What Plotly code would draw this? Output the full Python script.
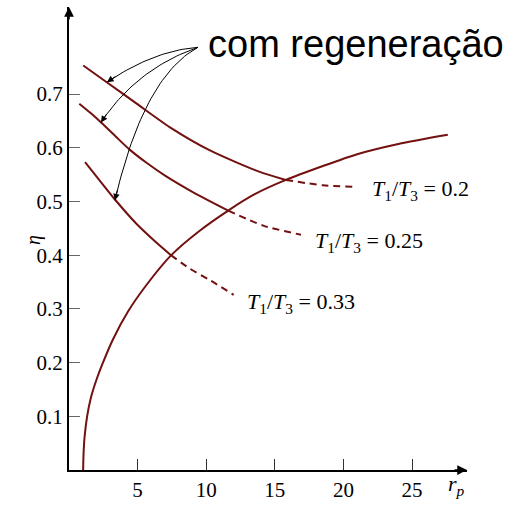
import numpy as np
import plotly.graph_objects as go

# ---- data ----
# Brayton cycle without regeneration
rp_simple = [1.03, 1.06, 1.13, 1.32, 1.6, 2.0, 2.43, 3.2, 4.3, 5.6, 7.45, 9.5, 11.6, 13.5, 15.8, 18.5, 21.0, 24.0, 27.6]
eta_simple = [0.0, 0.03, 0.06, 0.10, 0.135, 0.168, 0.197, 0.243, 0.295, 0.343, 0.40, 0.445, 0.483, 0.513, 0.540, 0.566, 0.588, 0.607, 0.624]

# with regeneration, T1/T3 = 0.2
rp_02 = [1.04, 2.75, 4.93, 7.36, 10.27, 13.9, 15.8]
eta_02 = [0.753, 0.722, 0.682, 0.638, 0.595, 0.555, 0.540]
rp_02_dash = [15.8, 18.5, 20.8]
eta_02_dash = [0.540, 0.530, 0.527]

# T1/T3 = 0.25
rp_025 = [0.75, 1.6, 2.38, 3.4, 4.44, 5.7, 7.0, 9.05, 11.6]
eta_025 = [0.682, 0.664, 0.646, 0.621, 0.596, 0.571, 0.548, 0.517, 0.483]
rp_025_dash = [11.6, 14.15, 16.9]
eta_025_dash = [0.483, 0.455, 0.438]

# T1/T3 = 0.33
rp_033 = [1.17, 2.2, 3.3, 4.93, 6.3, 7.43]
eta_033 = [0.573, 0.540, 0.505, 0.458, 0.425, 0.40]
rp_033_dash = [7.43, 8.8, 10.3, 12.0]
eta_033_dash = [0.40, 0.375, 0.353, 0.326]

labels = ["<i>T</i><sub>1</sub>/<i>T</i><sub>3</sub> = 0.2",
          "<i>T</i><sub>1</sub>/<i>T</i><sub>3</sub> = 0.25",
          "<i>T</i><sub>1</sub>/<i>T</i><sub>3</sub> = 0.33"]
label_x = [21.9, 17.8, 12.8]
label_y = [0.522, 0.425, 0.31]

x_ticks = [5, 10, 15, 20, 25]
y_ticks = [0.1, 0.2, 0.3, 0.4, 0.5, 0.6, 0.7]

# curved pointer arrows (start, control, tip) in data units
arrow_start = (9.4, 0.787)
arrow_ctrl = [(6.2, 0.781), (4.92, 0.747), (5.43, 0.732)]
arrow_tip = [(2.77, 0.722), (2.33, 0.647), (3.35, 0.502)]

RED = "#731010"
SERIF = "Liberation Serif, Times New Roman, serif"

fig = go.Figure()

def add_line(x, y, dash="solid"):
    fig.add_trace(go.Scatter(x=x, y=y, mode="lines",
                             line=dict(color=RED, width=2, dash=dash, shape="spline", smoothing=0.7),
                             hoverinfo="skip", showlegend=False))

add_line(rp_simple, eta_simple)
add_line(rp_02, eta_02)
add_line(rp_02_dash, eta_02_dash, "7px,5px")
add_line(rp_025, eta_025)
add_line(rp_025_dash, eta_025_dash, "7px,5px")
add_line(rp_033, eta_033)
add_line(rp_033_dash, eta_033_dash, "7px,5px")

# pointer arrows (quadratic Bezier curves)
t = np.linspace(0, 1, 40)
xpx, ypx = 13.72, 537.1  # px per unit
for c, tip in zip(arrow_ctrl, arrow_tip):
    bx = (1 - t) ** 2 * arrow_start[0] + 2 * (1 - t) * t * c[0] + t ** 2 * tip[0]
    by = (1 - t) ** 2 * arrow_start[1] + 2 * (1 - t) * t * c[1] + t ** 2 * tip[1]
    fig.add_trace(go.Scatter(x=bx, y=by, mode="lines", line=dict(color="black", width=1),
                             hoverinfo="skip", showlegend=False))
    dx = (tip[0] - c[0]) * xpx
    dy = -(tip[1] - c[1]) * ypx
    n = (dx ** 2 + dy ** 2) ** 0.5
    L = 12
    fig.add_annotation(x=tip[0], y=tip[1], xref="x", yref="y", text="", showarrow=True,
                       ax=-dx / n * L, ay=-dy / n * L, arrowhead=2, arrowsize=1.3,
                       arrowwidth=1, arrowcolor="black")

for txt, lx, ly in zip(labels, label_x, label_y):
    fig.add_annotation(x=lx, y=ly, xref="x", yref="y", text=txt, showarrow=False,
                       xanchor="left", yanchor="middle",
                       font=dict(family=SERIF, size=22, color="black"))

fig.add_annotation(x=10.0, y=0.793, xref="x", yref="y", text="com regeneração", showarrow=False,
                   xanchor="left", yanchor="middle",
                   font=dict(family="Liberation Sans, Arial, sans-serif", size=38, color="black"))

# axis titles
fig.add_annotation(x=-0.123, y=0.496, xref="paper", yref="paper", text="<i>η</i>", showarrow=False,
                   textangle=-90, font=dict(family=SERIF, size=20, color="black"))
fig.add_annotation(x=1.0, y=-0.068, xref="paper", yref="paper", text="<i>r<sub>p</sub></i>",
                   showarrow=False, font=dict(family=SERIF, size=22, color="black"))

# axis arrowheads
fig.add_annotation(x=0, y=1, xref="paper", yref="paper", text="", showarrow=True,
                   ax=0, ay=14, arrowhead=2, arrowsize=1.3, arrowwidth=1.5, arrowcolor="black")
fig.add_annotation(x=1, y=0, xref="paper", yref="paper", text="", showarrow=True,
                   ax=-14, ay=0, arrowhead=2, arrowsize=1.3, arrowwidth=1.5, arrowcolor="black")

fig.update_layout(
    width=509, height=506,
    margin=dict(l=69, r=42, t=7, b=36),
    paper_bgcolor="white", plot_bgcolor="white",
    showlegend=False,
    xaxis=dict(range=[0, 29], tickvals=x_ticks, ticktext=[str(v) for v in x_ticks],
               ticks="inside", ticklen=11, tickcolor="#333", tickwidth=1,
               showline=True, linecolor="black", linewidth=2, showgrid=False, zeroline=False,
               automargin=False,
               tickfont=dict(family=SERIF, size=21, color="black")),
    yaxis=dict(range=[0, 0.862], tickvals=y_ticks, ticktext=[f"{v:.1f}" for v in y_ticks],
               ticks="inside", ticklen=11, tickcolor="#666", tickwidth=1,
               showline=True, linecolor="black", linewidth=2, showgrid=False, zeroline=False,
               automargin=False,
               tickfont=dict(family=SERIF, size=21, color="black")),
)

fig.write_html("out.html", config={"displayModeBar": False},
               post_script="document.body.style.margin='0';document.body.style.overflow='hidden';")
